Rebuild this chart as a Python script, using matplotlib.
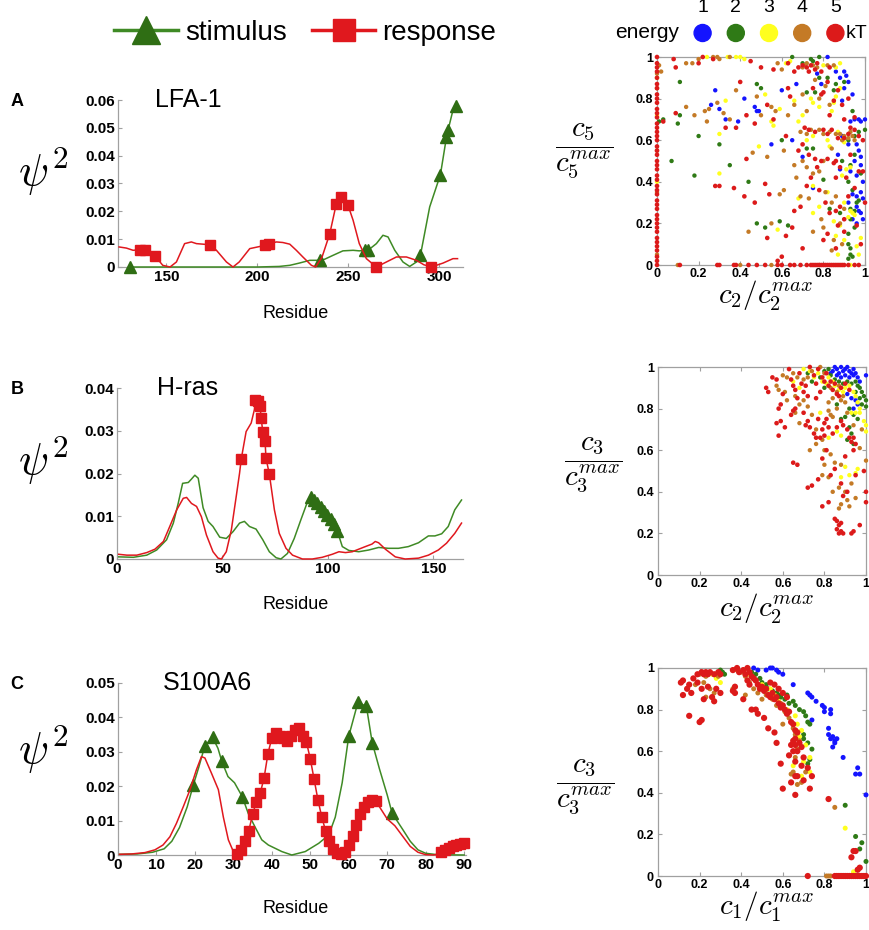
import numpy as np
import matplotlib
matplotlib.use('Agg')
import matplotlib.pyplot as plt
from matplotlib.lines import Line2D
from matplotlib.ticker import FuncFormatter

plt.rcParams['font.family'] = ['Liberation Sans', 'DejaVu Sans']
plt.rcParams['mathtext.fontset'] = 'cm'

GREEN = '#3f8a25'
GREEN_MK = '#2f6e14'
RED = '#e0181e'
AX_GRAY = '#a0a0a0'
energy_levels = [1, 2, 3, 4, 5]
energy_colors = ['#1414ff', '#2f7a16', '#ffff1e', '#c47a26', '#dc1a1a']

# ---------------- A: LFA-1 ----------------
resA_red = [124, 128, 131.7, 135.3, 138.5, 144, 148, 152, 155.5, 160, 163.7, 166.5, 173.8, 177.5,
            183, 186.6, 190, 195.8, 204.4, 206.4, 210.5, 214, 217.8, 221.4, 225, 229.7, 232, 235.5,
            239.8, 243.4, 246.2, 249.8, 252.6, 256, 259.9, 265.4, 270.9, 276.4, 281.9, 287.4,
            291.5, 295.6, 302, 307.5, 310]
valA_red = [0.0072, 0.0068, 0.006, 0.0062, 0.006, 0.0038, 0.0006, 0, 0.0018, 0.0084, 0.009, 0.0084,
            0.008, 0.006, 0.0018, 0, 0.0018, 0.0066, 0.0078, 0.0084, 0.009, 0.0088, 0.0082, 0.006,
            0.0036, 0.0006, 0, 0.0035, 0.012, 0.0228, 0.0252, 0.0222, 0.0168, 0.0084, 0.003, 0,
            0.0018, 0.0036, 0.0036, 0.0024, 0.0008, 0, 0.0014, 0.003, 0.003]
mkA_red = [135.3, 138.5, 144, 173.8, 204.4, 206.4, 239.8, 243.4, 246.2, 249.8, 265.4, 295.6]

resA_grn = [130, 150, 175, 200, 212, 217.8, 223, 228.8, 234.3, 237, 241.6, 247, 252.6, 256, 259,
            260.8, 265.4, 269, 271.8, 275.5, 280, 283.7, 287.4, 289.6, 294.7, 300.6, 303.9, 304.8,
            307.5, 309.4]
valA_grn = [0, 0, 0, 0, 0.0002, 0.0006, 0.0014, 0.0024, 0.0024, 0.0028, 0.0042, 0.0058, 0.006,
            0.0058, 0.006, 0.006, 0.0084, 0.0114, 0.0108, 0.006, 0.0018, 0.0002, 0.0018, 0.0042,
            0.0216, 0.0332, 0.0466, 0.0492, 0.0564, 0.0578]
mkA_grn = [130, 234.3, 259, 260.8, 289.6, 300.6, 303.9, 304.8, 309.4]

# ---------------- B: H-ras ----------------
resB_red = [0.8, 4.7, 9.4, 14.1, 18, 22, 25, 28.3, 31.4, 33, 35.3, 37.7, 40, 42.4, 45.5, 47.9,
            49.5, 51.8, 54.2, 56.5, 58.1, 58.9, 61.2, 63.6, 65.1, 65.6, 66.9, 67.8, 68.3, 69.1,
            70.2, 70.6, 72.2, 74.6, 76.9, 80.1, 83.2, 87.9, 92.6, 97.3, 102, 105.2, 108.3, 111.5,
            114.6, 117.7, 120.9, 122.4, 124, 127.2, 131.9, 136.6, 142.9, 147.6, 152.3, 156.2,
            160.1, 163.3]
valB_red = [0.0011, 0.0009, 0.0009, 0.0015, 0.0023, 0.0041, 0.0076, 0.0115, 0.0142, 0.0144, 0.013,
            0.0123, 0.0099, 0.0056, 0.0017, 0.0002, 0, 0.0017, 0.0068, 0.0146, 0.0201, 0.0234,
            0.0298, 0.0318, 0.0349, 0.0372, 0.037, 0.0358, 0.033, 0.0298, 0.0275, 0.0236, 0.0199,
            0.0115, 0.006, 0.0025, 0.0009, 0, 0, 0.0004, 0.0011, 0.0017, 0.0015, 0.0017, 0.0023,
            0.0029, 0.0035, 0.0041, 0.0038, 0.0023, 0.0005, 0, 0.0002, 0.0009, 0.0021, 0.0037,
            0.006, 0.0084]
mkB_red = [58.9, 65.6, 66.9, 67.8, 68.3, 69.1, 70.2, 70.6, 72.2]

resB_grn = [0.8, 7.8, 14.1, 18.8, 23.5, 26.7, 29, 31.1, 33.8, 35.3, 36.9, 38.5, 40.8, 43.2, 45.5,
            48.7, 51.8, 55, 58.1, 60.4, 62.8, 65.9, 69.1, 72.2, 75.4, 77.7, 80.8, 84, 87.1, 90.3,
            91.8, 93.4, 95.0, 96.5, 98.1, 99.7, 101.3, 102.8, 104.4, 106.8, 109.9, 114.6, 119.3,
            124, 128.7, 133.4, 138.1, 142.9, 147.6, 150.7, 153.9, 157, 160.1, 163.3]
valB_grn = [0.0005, 0.0004, 0.0009, 0.0021, 0.0045, 0.0084, 0.013, 0.0177, 0.0179, 0.0187, 0.0196,
            0.0189, 0.012, 0.0088, 0.0076, 0.0051, 0.0048, 0.0064, 0.0084, 0.0088, 0.0076, 0.007,
            0.0045, 0.0017, 0.0003, 0, 0.0013, 0.0048, 0.0091, 0.0134, 0.0146, 0.0138, 0.013,
            0.0121, 0.0113, 0.0103, 0.0093, 0.0082, 0.0066, 0.0029, 0.002, 0.0017, 0.0021, 0.0027,
            0.0025, 0.0025, 0.0029, 0.0038, 0.0054, 0.0054, 0.0059, 0.0076, 0.0115, 0.0138]
mkB_grn = [91.8, 93.4, 95.0, 96.5, 98.1, 99.7, 101.3, 102.8, 104.4]

# ---------------- C: S100A6 ----------------
resC_red = [0.4, 3.5, 7, 9.6, 11.7, 13.5, 15.2, 17, 18.7, 20.4, 21.7, 22.6, 24.3, 26.1, 27.4, 28.7,
            30, 31, 32, 33, 34, 35, 36, 37, 38, 39, 40, 41, 42, 43, 44, 45, 46, 47, 48, 49, 50, 51,
            52, 53, 54, 55, 56, 57, 58, 59, 60, 61, 62, 63, 64, 65, 66, 67, 68, 70, 72, 74, 76, 78,
            80, 82, 83, 84, 85, 86, 87, 88, 89, 90]
valC_red = [0.0002, 0.0003, 0.0007, 0.0015, 0.0029, 0.0053, 0.0092, 0.0141, 0.0189, 0.0248, 0.0286,
            0.0282, 0.0238, 0.019, 0.011, 0.0044, 0.001, 0.0003, 0.0015, 0.004, 0.007, 0.0118,
            0.0155, 0.018, 0.0225, 0.0295, 0.034, 0.0355, 0.0345, 0.034, 0.0332, 0.0345, 0.0362,
            0.037, 0.0345, 0.0328, 0.028, 0.022, 0.016, 0.011, 0.007, 0.0042, 0.0018, 0.0005,
            0.0002, 0.001, 0.0028, 0.0055, 0.0088, 0.0118, 0.014, 0.0155, 0.016, 0.0158, 0.014,
            0.0105, 0.0085, 0.0055, 0.0025, 0.0008, 0.0001, 0, 0.0002, 0.0008, 0.0015, 0.0021,
            0.0026, 0.003, 0.0033, 0.0035]
mkC_red = [31, 32, 33, 34, 35, 36, 37, 38, 39, 40, 41, 42, 43, 44, 45, 46, 47, 48, 49, 50, 51, 52,
           53, 54, 55, 56, 57, 58, 59, 60, 61, 62, 63, 64, 65, 66, 67, 84, 85, 86, 87, 88, 89, 90]

resC_grn = [0.4, 5, 9, 12, 14, 16, 18, 19.6, 21, 22.6, 24.6, 26, 27, 28.6, 30.3, 32.3, 33.9, 35.7,
            37.4, 39.1, 42.6, 45.2, 48.7, 52.2, 54.8, 56.5, 58.3, 60, 62.4, 64.6, 66.1, 68, 70,
            71.3, 74, 76, 78, 80, 83, 90]
valC_grn = [0.0002, 0.0003, 0.0008, 0.0018, 0.004, 0.008, 0.014, 0.0204, 0.0255, 0.0318, 0.0342,
            0.031, 0.0272, 0.0228, 0.021, 0.017, 0.012, 0.008, 0.0044, 0.0029, 0.001, 0, 0.001,
            0.0034, 0.0058, 0.011, 0.021, 0.0345, 0.0444, 0.0432, 0.0327, 0.025, 0.0175, 0.0121,
            0.0075, 0.004, 0.0015, 0.0005, 0.0001, 0]
mkC_grn = [19.6, 22.6, 24.6, 27, 32.3, 60, 62.4, 64.6, 66.1, 71.3]

# ---------------- scatter: c5 vs c2 ----------------
s1_blue = [(0.82, 1.0), (0.86, 0.93), (0.88, 0.9), (0.9, 0.93), (0.91, 0.91), (0.92, 0.88), (0.9, 0.85),
           (0.94, 0.82), (0.89, 0.79), (0.79, 0.87), (0.77, 0.92), (0.6, 0.84), (0.67, 0.87), (0.26, 0.77),
           (0.3, 0.75), (0.28, 0.84), (0.42, 0.8), (0.39, 0.69), (0.47, 0.76), (0.48, 0.74), (0.49, 0.74),
           (0.33, 0.7), (0.95, 0.7), (0.97, 0.7), (0.98, 0.69), (1.0, 0.7), (0.93, 0.69), (0.96, 0.58),
           (0.97, 0.55), (0.98, 0.52), (0.95, 0.5), (0.98, 0.48), (0.93, 0.45), (0.96, 0.43), (0.99, 0.4),
           (0.94, 0.34), (0.96, 0.33), (0.98, 0.35), (0.99, 0.32), (0.92, 0.3), (0.96, 0.28), (0.97, 0.26),
           (0.94, 0.22), (0.96, 0.2), (0.98, 0.25), (0.99, 0.22), (0.7, 0.52), (0.75, 0.37), (0.65, 0.6),
           (0.89, 0.62), (0.92, 0.58), (0.87, 0.53), (0.55, 0.58), (0.88, 0.46)]
s1_green = [(0.03, 0.7), (0.01, 0.69), (0.11, 0.88), (0.1, 0.68), (0.11, 0.72), (0.2, 0.62), (0.07, 0.5),
            (0.18, 0.43), (0.3, 0.58), (0.35, 0.48), (0.44, 0.4), (0.65, 1.0), (0.74, 0.99), (0.75, 0.98),
            (0.78, 1.0), (0.7, 0.97), (0.78, 0.9), (0.72, 0.83), (0.76, 0.83), (0.82, 0.9), (0.86, 0.87),
            (0.85, 0.84), (0.9, 0.88), (0.94, 0.74), (0.95, 0.62), (0.97, 0.64), (1.0, 0.65), (0.92, 0.6),
            (0.89, 0.5), (0.93, 0.48), (0.95, 0.53), (0.98, 0.44), (0.92, 0.4), (0.94, 0.36), (0.93, 0.27),
            (0.95, 0.26), (0.96, 0.3), (0.97, 0.31), (0.93, 0.22), (0.95, 0.18), (0.92, 0.15), (0.92, 0.1),
            (0.93, 0.08), (0.93, 0.05), (0.94, 0.04), (0.92, 0.03), (0.83, 0.27), (0.88, 0.25), (0.59, 0.21),
            (0.63, 0.19), (0.48, 0.2), (0.52, 0.18), (0.6, 0.6), (0.8, 0.41), (0.75, 0.56), (0.5, 0.85),
            (0.48, 0.87), (0.72, 0.56)]
s1_yellow = [(0.24, 1.0), (0.34, 1.0), (0.38, 1.0), (0.4, 1.0), (0.42, 0.99), (0.62, 0.97), (0.64, 0.98),
             (0.88, 0.97), (0.86, 0.95), (0.8, 0.96), (0.33, 0.79), (0.3, 0.63), (0.3, 0.44), (0.49, 0.57),
             (0.52, 0.82), (0.56, 0.67), (0.55, 0.69), (0.59, 0.75), (0.66, 0.79), (0.68, 0.69), (0.7, 0.72),
             (0.74, 0.8), (0.75, 0.78), (0.78, 0.76), (0.85, 0.78), (0.86, 0.81), (0.88, 0.85), (0.75, 0.62),
             (0.72, 0.6), (0.82, 0.6), (0.87, 0.64), (0.9, 0.59), (0.83, 0.57), (0.93, 0.47), (0.91, 0.46),
             (0.89, 0.43), (0.75, 0.38), (0.78, 0.28), (0.82, 0.35), (0.9, 0.3), (0.93, 0.26), (0.94, 0.25),
             (0.95, 0.24), (0.92, 0.23), (0.86, 0.14), (0.85, 0.21), (0.88, 0.19), (0.96, 0.09), (0.75, 0.25),
             (0.58, 0.17), (0.68, 0.32), (0.9, 0.12), (0.98, 0.13), (0.97, 0.05), (0.87, 0.05), (0.0, 0.72),
             (0.0, 0.4), (0.0, 0.9), (0.93, 0.0), (0.84, 0.74)]
s1_orange = [(0.14, 0.97), (0.17, 0.97), (0.2, 0.99), (0.27, 1.0), (0.29, 1.0), (0.3, 0.99), (0.35, 1.0),
             (0.58, 0.97), (0.6, 0.94), (0.71, 0.96), (0.72, 0.97), (0.75, 0.96), (0.77, 0.95), (0.7, 0.95),
             (0.82, 0.96), (0.85, 0.96), (0.02, 0.93), (0.0, 0.92), (0.01, 0.96), (0.38, 0.84), (0.18, 0.72),
             (0.14, 0.76), (0.23, 0.74), (0.25, 0.75), (0.24, 0.69), (0.35, 0.7), (0.29, 0.78), (0.32, 0.73),
             (0.48, 0.81), (0.5, 0.72), (0.55, 0.76), (0.57, 0.74), (0.63, 0.72), (0.66, 0.77), (0.72, 0.74),
             (0.7, 0.82), (0.78, 0.8), (0.81, 0.86), (0.76, 0.89), (0.83, 0.77), (0.69, 0.64), (0.72, 0.63),
             (0.74, 0.65), (0.78, 0.65), (0.8, 0.63), (0.83, 0.64), (0.86, 0.63), (0.88, 0.63), (0.9, 0.62),
             (0.92, 0.61), (0.94, 0.62), (0.93, 0.64), (0.95, 0.6), (0.89, 0.6), (0.46, 0.54), (0.53, 0.52),
             (0.61, 0.55), (0.66, 0.48), (0.7, 0.5), (0.72, 0.47), (0.8, 0.5), (0.78, 0.45), (0.75, 0.44),
             (0.81, 0.35), (0.84, 0.3), (0.86, 0.33), (0.9, 0.27), (0.79, 0.22), (0.75, 0.16), (0.85, 0.12),
             (0.89, 0.1), (0.84, 0.07), (0.67, 0.42), (0.61, 0.36), (0.59, 0.34), (0.44, 0.16), (0.55, 0.2),
             (0.69, 0.33), (0.73, 0.32), (0.0, 0.05), (0.0, 0.35), (0.0, 0.55), (0.0, 0.85), (0.55, 0.0),
             (0.4, 0.0), (0.1, 0.0), (0.78, 0.0), (0.8, 0.18), (0.88, 0.2), (0.84, 0.56)]
s1_red = [(0, 0.0), (0, 0.02), (0, 0.04), (0, 0.07), (0, 0.09), (0, 0.11), (0, 0.13), (0, 0.16), (0, 0.18),
          (0, 0.2), (0, 0.22), (0, 0.24), (0, 0.27), (0, 0.29), (0, 0.31), (0, 0.34), (0, 0.36), (0, 0.38),
          (0, 0.41), (0, 0.43), (0, 0.46), (0, 0.48), (0, 0.5), (0, 0.53), (0, 0.55), (0, 0.57), (0, 0.6),
          (0, 0.62), (0, 0.64), (0, 0.66), (0, 0.68), (0, 0.71), (0, 0.73), (0, 0.75), (0, 0.78), (0, 0.8),
          (0, 0.82), (0, 0.85), (0, 0.87), (0, 0.9), (0, 0.93), (0, 0.95), (0, 0.97), (0, 1.0),
          (0.11, 0), (0.29, 0), (0.3, 0), (0.37, 0), (0.38, 0), (0.44, 0), (0.48, 0), (0.52, 0), (0.58, 0),
          (0.6, 0), (0.64, 0), (0.66, 0), (0.69, 0), (0.72, 0), (0.74, 0), (0.75, 0), (0.76, 0), (0.77, 0),
          (0.78, 0), (0.79, 0), (0.8, 0), (0.81, 0), (0.82, 0), (0.83, 0), (0.84, 0), (0.85, 0), (0.86, 0),
          (0.87, 0), (0.88, 0), (0.89, 0), (0.9, 0), (0.92, 0), (0.95, 0), (0.97, 0),
          (0.08, 0.99), (0.09, 0.95), (0.2, 0.97), (0.22, 1.0), (0.27, 0.99), (0.45, 0.98), (0.5, 0.95),
          (0.56, 0.94), (0.63, 0.97), (0.66, 0.93), (0.68, 0.95), (0.7, 0.96), (0.72, 0.95), (0.74, 0.96),
          (0.76, 0.94), (0.73, 0.93), (0.77, 0.97), (0.79, 0.93), (0.83, 0.95), (0.79, 0.82), (0.75, 0.85),
          (0.8, 0.83), (0.82, 0.88), (0.85, 0.79), (0.87, 0.84), (0.89, 0.77), (0.92, 0.8), (0.09, 0.73),
          (0.03, 0.69), (0.4, 0.88), (0.33, 0.66), (0.38, 0.66), (0.43, 0.72), (0.47, 0.68), (0.53, 0.77),
          (0.56, 0.7), (0.62, 0.62), (0.63, 0.85), (0.64, 0.81), (0.71, 0.66), (0.73, 0.65), (0.76, 0.64),
          (0.8, 0.65), (0.82, 0.63), (0.84, 0.65), (0.87, 0.61), (0.9, 0.61), (0.92, 0.63), (0.95, 0.65),
          (0.97, 0.62), (0.99, 0.6), (0.93, 0.66), (0.95, 0.71), (0.68, 0.55), (0.7, 0.58), (0.73, 0.53),
          (0.76, 0.51), (0.79, 0.5), (0.82, 0.51), (0.85, 0.49), (0.88, 0.47), (0.91, 0.42), (0.86, 0.42),
          (0.77, 0.47), (0.74, 0.42), (0.72, 0.38), (0.69, 0.28), (0.66, 0.26), (0.78, 0.36), (0.81, 0.3),
          (0.83, 0.25), (0.86, 0.26), (0.88, 0.28), (0.92, 0.33), (0.9, 0.22), (0.87, 0.19), (0.82, 0.15),
          (0.8, 0.12), (0.86, 0.08), (0.9, 0.16), (0.96, 0.19), (0.98, 0.1), (0.28, 0.38), (0.3, 0.38),
          (0.43, 0.51), (0.52, 0.39), (0.37, 0.37), (0.42, 0.33), (0.53, 0.13), (0.47, 0.3), (0.54, 0.34),
          (0.62, 0.14), (0.6, 0.04), (0.58, 0.02), (0.7, 0.08), (0.65, 0.18), (0.95, 0.37), (0.99, 0.45),
          (1.0, 0.3), (0.97, 0.45), (0.93, 0.53), (0.86, 0.5), (0.9, 0.7), (0.83, 0.72)]

# ---------------- scatter: c3 vs c2 ----------------
s2_blue = [(0.84, 0.98), (0.85, 1.0), (0.86, 0.99), (0.87, 0.97), (0.88, 1.0), (0.89, 0.98), (0.9, 0.99),
           (0.91, 1.0), (0.92, 0.98), (0.93, 0.97), (0.94, 0.99), (0.95, 0.97), (0.86, 0.96), (0.88, 0.95),
           (0.9, 0.96), (0.92, 0.95), (0.94, 0.96), (0.96, 0.95), (1.0, 0.96), (0.97, 0.93), (0.93, 0.85),
           (0.95, 0.84), (0.94, 0.8), (0.96, 0.82), (0.91, 0.87), (0.83, 0.97)]
s2_green = [(0.8, 0.98), (0.82, 0.99), (0.83, 0.96), (0.85, 0.94), (0.87, 0.93), (0.89, 0.92), (0.91, 0.93),
            (0.93, 0.92), (0.95, 0.93), (0.96, 0.91), (0.97, 0.9), (0.98, 0.88), (0.99, 0.86), (1.0, 0.84),
            (0.98, 0.82), (1.0, 0.81), (0.97, 0.85), (0.95, 0.88), (0.78, 0.95), (0.8, 0.9), (0.92, 0.8),
            (0.9, 0.76), (0.94, 0.77), (0.92, 0.71), (0.93, 0.68), (0.94, 0.63), (0.91, 0.65), (0.86, 0.82),
            (0.74, 0.93), (0.72, 0.97), (0.96, 0.75), (0.88, 0.75)]
s2_yellow = [(0.7, 0.99), (0.73, 0.98), (0.75, 0.95), (0.77, 0.97), (0.79, 0.93), (0.81, 0.92), (0.82, 0.95),
             (0.84, 0.93), (0.85, 0.91), (0.87, 0.89), (0.89, 0.88), (0.9, 0.9), (0.92, 0.91), (0.94, 0.88),
             (0.95, 0.86), (0.96, 0.83), (0.97, 0.8), (0.93, 0.78), (0.95, 0.78), (0.99, 0.74), (1.0, 0.72),
             (1.0, 0.69), (0.97, 0.78), (0.82, 0.66), (0.86, 0.69), (0.88, 0.67), (0.9, 0.52), (0.92, 0.48),
             (0.95, 0.49), (0.96, 0.51), (0.88, 0.47), (0.78, 0.78), (0.68, 0.9), (0.65, 0.93)]
s2_orange = [(0.6, 0.96), (0.62, 0.95), (0.65, 0.97), (0.67, 0.95), (0.7, 0.94), (0.72, 0.95), (0.74, 0.98),
             (0.78, 1.0), (0.8, 0.97), (0.83, 0.9), (0.86, 0.88), (0.87, 0.91), (0.89, 0.86), (0.9, 0.83),
             (0.84, 0.85), (0.82, 0.83), (0.82, 0.79), (0.83, 0.77), (0.84, 0.76), (0.86, 0.8), (0.88, 0.84),
             (0.57, 0.91), (0.58, 0.89), (0.61, 0.88), (0.62, 0.84), (0.66, 0.86), (0.68, 0.82), (0.7, 0.84),
             (0.72, 0.81), (0.74, 0.77), (0.76, 0.7), (0.79, 0.65), (0.8, 0.6), (0.83, 0.58), (0.85, 0.54),
             (0.88, 0.53), (0.82, 0.47), (0.79, 0.48), (0.73, 0.6), (0.68, 0.73), (0.66, 0.78), (0.87, 0.42),
             (0.9, 0.4), (0.91, 0.36), (0.88, 0.34), (0.87, 0.32), (0.92, 0.33), (0.95, 0.37), (0.93, 0.44),
             (1.0, 0.55), (0.97, 0.61), (0.98, 0.7), (0.94, 0.72), (0.91, 0.78), (0.8, 0.53), (0.76, 0.63),
             (0.84, 0.4)]
s2_red = [(0.52, 0.9), (0.53, 0.88), (0.55, 0.95), (0.57, 0.94), (0.58, 0.8), (0.59, 0.82), (0.6, 0.87),
          (0.57, 0.73), (0.59, 0.74), (0.58, 0.67), (0.61, 0.71), (0.63, 0.99), (0.64, 0.94), (0.65, 0.91),
          (0.66, 0.89), (0.68, 0.97), (0.69, 0.92), (0.7, 0.88), (0.71, 0.91), (0.73, 1.0), (0.75, 0.96),
          (0.76, 0.92), (0.77, 0.99), (0.79, 0.95), (0.8, 0.93), (0.81, 0.97), (0.82, 0.91), (0.83, 0.93),
          (0.84, 0.89), (0.85, 0.92), (0.86, 0.87), (0.87, 0.86), (0.88, 0.9), (0.9, 0.92), (0.92, 0.89),
          (0.78, 0.88), (0.76, 0.85), (0.72, 0.86), (0.67, 0.85), (0.65, 0.79), (0.64, 0.77), (0.66, 0.8),
          (0.7, 0.78), (0.72, 0.74), (0.73, 0.71), (0.75, 0.68), (0.76, 0.66), (0.78, 0.66), (0.79, 0.7),
          (0.8, 0.73), (0.81, 0.75), (0.82, 0.71), (0.84, 0.68), (0.8, 0.67), (0.77, 0.75), (0.86, 0.71),
          (0.88, 0.74), (0.89, 0.72), (0.91, 0.7), (0.92, 0.66), (0.93, 0.64), (0.94, 0.66), (0.95, 0.63),
          (0.94, 0.6), (0.9, 0.57), (0.85, 0.51), (0.83, 0.48), (0.77, 0.46), (0.74, 0.43), (0.67, 0.53),
          (0.65, 0.54), (0.72, 0.42), (0.79, 0.33), (0.82, 0.35), (0.85, 0.27), (0.86, 0.26), (0.87, 0.24),
          (0.86, 0.22), (0.88, 0.21), (0.87, 0.2), (0.89, 0.2), (0.88, 0.25), (0.93, 0.2), (0.94, 0.21),
          (0.97, 0.24), (0.89, 0.38), (0.91, 0.4), (0.88, 0.44), (0.95, 0.48), (1.0, 0.4), (1.0, 0.35),
          (0.99, 0.5), (0.79, 0.56), (0.81, 0.6), (0.71, 0.72)]

# ---------------- scatter: c3 vs c1 ----------------
s3_blue = [(0.46, 1.0), (0.48, 0.99), (0.52, 0.99), (0.54, 1.0), (0.55, 1.0), (0.57, 0.99), (0.58, 0.98),
           (0.6, 0.97), (0.65, 0.92), (0.72, 0.88), (0.73, 0.87), (0.74, 0.86), (0.76, 0.84), (0.79, 0.82),
           (0.8, 0.81), (0.8, 0.79), (0.83, 0.8), (0.83, 0.78), (0.74, 0.75), (0.82, 0.71), (0.82, 0.68),
           (0.83, 0.66), (0.84, 0.67), (0.85, 0.65), (0.86, 0.66), (0.84, 0.62), (0.85, 0.64), (0.89, 0.57),
           (0.96, 0.52), (0.95, 0.49), (0.97, 0.49), (1.0, 0.39)]
s3_green = [(0.31, 0.98), (0.32, 0.97), (0.3, 0.99), (0.45, 0.98), (0.47, 0.97), (0.49, 0.95), (0.5, 0.93),
            (0.52, 0.92), (0.53, 0.9), (0.55, 0.89), (0.57, 0.88), (0.59, 0.86), (0.61, 0.85), (0.63, 0.83),
            (0.65, 0.84), (0.66, 0.82), (0.68, 0.8), (0.7, 0.79), (0.71, 0.77), (0.73, 0.73), (0.72, 0.74),
            (0.7, 0.68), (0.7, 0.66), (0.72, 0.64), (0.74, 0.61), (0.73, 0.56), (0.72, 0.54), (0.9, 0.34),
            (0.95, 0.19), (0.98, 0.16), (0.97, 0.13), (1.0, 0.07), (0.62, 0.87), (0.58, 0.87)]
s3_yellow = [(0.28, 0.95), (0.3, 0.93), (0.26, 0.97), (0.43, 0.97), (0.5, 0.92), (0.54, 0.9), (0.56, 0.87),
             (0.58, 0.84), (0.6, 0.82), (0.62, 0.8), (0.66, 0.77), (0.67, 0.73), (0.69, 0.7), (0.68, 0.67),
             (0.71, 0.63), (0.73, 0.57), (0.7, 0.55), (0.65, 0.53), (0.69, 0.48), (0.73, 0.5), (0.9, 0.23),
             (0.94, 0.02), (0.52, 0.88)]
s3_orange = [(0.2, 0.97), (0.22, 0.93), (0.23, 0.96), (0.25, 0.9), (0.23, 0.86), (0.27, 0.88), (0.18, 0.92),
             (0.29, 0.96), (0.38, 0.99), (0.4, 0.98), (0.42, 0.96), (0.44, 0.93), (0.46, 0.9), (0.48, 0.88),
             (0.5, 0.85), (0.52, 0.87), (0.55, 0.85), (0.57, 0.82), (0.59, 0.83), (0.61, 0.79), (0.63, 0.76),
             (0.65, 0.71), (0.66, 0.68), (0.68, 0.65), (0.67, 0.61), (0.66, 0.57), (0.64, 0.49), (0.65, 0.5),
             (0.67, 0.44), (0.69, 0.45), (0.71, 0.5), (0.85, 0.33), (0.81, 0.0), (0.82, 0.0), (0.83, 0.0),
             (0.36, 0.9), (0.42, 0.87), (0.6, 0.73)]
s3_red = [(0.11, 0.93), (0.12, 0.94), (0.12, 0.87), (0.14, 0.9), (0.15, 0.92), (0.16, 0.88), (0.15, 0.77),
          (0.2, 0.74), (0.21, 0.75), (0.17, 0.95), (0.19, 0.97), (0.21, 0.98), (0.22, 0.97), (0.23, 0.98),
          (0.24, 0.97), (0.25, 0.98), (0.27, 0.97), (0.29, 0.98), (0.3, 0.97), (0.19, 0.93), (0.21, 0.9),
          (0.24, 0.91), (0.26, 0.86), (0.27, 0.84), (0.22, 0.85), (0.3, 0.88), (0.28, 0.9), (0.36, 0.99),
          (0.38, 1.0), (0.39, 0.98), (0.41, 0.99), (0.42, 0.97), (0.43, 1.0), (0.44, 0.98), (0.45, 0.96),
          (0.46, 0.95), (0.47, 0.94), (0.44, 0.92), (0.43, 0.94), (0.48, 0.92), (0.49, 0.9), (0.5, 0.91),
          (0.51, 0.89), (0.52, 0.9), (0.53, 0.87), (0.54, 0.86), (0.55, 0.88), (0.56, 0.85), (0.57, 0.86),
          (0.58, 0.83), (0.59, 0.81), (0.6, 0.82), (0.61, 0.8), (0.62, 0.78), (0.63, 0.79), (0.64, 0.74),
          (0.65, 0.73), (0.66, 0.7), (0.67, 0.69), (0.66, 0.66), (0.65, 0.65), (0.64, 0.63), (0.66, 0.63),
          (0.68, 0.64), (0.69, 0.62), (0.67, 0.6), (0.65, 0.6), (0.63, 0.58), (0.66, 0.55), (0.7, 0.57),
          (0.69, 0.53), (0.72, 0.52), (0.74, 0.48), (0.66, 0.48), (0.67, 0.48), (0.7, 0.46), (0.64, 0.45),
          (0.6, 0.42), (0.66, 0.39), (0.73, 0.42), (0.59, 0.54), (0.57, 0.64), (0.53, 0.71), (0.56, 0.69),
          (0.48, 0.78), (0.51, 0.76), (0.41, 0.85), (0.36, 0.89), (0.37, 0.88), (0.45, 0.8), (0.47, 0.8),
          (0.37, 0.91), (0.82, 0.37), (0.93, 0.09), (0.94, 0.12), (0.95, 0.12), (0.96, 0.03), (0.97, 0.04),
          (0.72, 0.0), (0.85, 0.0), (0.86, 0.0), (0.87, 0.0), (0.88, 0.0), (0.89, 0.0), (0.9, 0.0),
          (0.91, 0.0), (0.92, 0.0), (0.93, 0.0), (0.94, 0.0), (0.95, 0.0), (0.96, 0.0), (0.97, 0.0),
          (0.98, 0.0), (0.99, 0.0), (1.0, 0.0), (0.54, 0.93), (0.56, 0.92), (0.58, 0.9), (0.6, 0.88),
          (0.62, 0.86)]

W, H = 870.0, 930.0


def px_rect(left, top, right, bottom):
    return [left / W, 1 - bottom / H, (right - left) / W, (bottom - top) / H]


fmt = FuncFormatter(lambda v, p: '%g' % round(v, 4))

fig = plt.figure(figsize=(8.7, 9.3), dpi=100)


def line_panel(rect, res_g, val_g, mk_g, res_r, val_r, mk_r, xlim, xticks, ymax, name, letter,
               name_x, lab_x, lab_y, psi_y):
    ax = fig.add_axes(rect)
    res_g = np.array(res_g)
    res_r = np.array(res_r)
    ax.plot(res_g, val_g, color=GREEN, lw=1.1, marker='^', ms=9, mfc=GREEN_MK, mec=GREEN_MK,
            markevery=list(np.isin(res_g, mk_g)), clip_on=False, zorder=3)
    ax.plot(res_r, val_r, color=RED, lw=1.1, marker='s', ms=7, mfc=RED, mec=RED,
            markevery=list(np.isin(res_r, mk_r)), clip_on=False, zorder=4)
    ax.set_xlim(*xlim)
    ax.set_ylim(0, ymax)
    ax.set_xticks(xticks)
    ax.set_yticks(np.linspace(0, ymax, int(round(ymax / 0.01)) + 1))
    ax.xaxis.set_major_formatter(fmt)
    ax.yaxis.set_major_formatter(fmt)
    for s in ['top', 'right']:
        ax.spines[s].set_visible(False)
    for s in ['left', 'bottom']:
        ax.spines[s].set_color(AX_GRAY)
        ax.spines[s].set_linewidth(0.9)
    ax.tick_params(direction='in', length=3, color=AX_GRAY, labelsize=11, pad=2)
    for lbl in ax.get_xticklabels() + ax.get_yticklabels():
        lbl.set_fontweight('bold')
    ax.set_xlabel('Residue', fontsize=13)
    ax.xaxis.set_label_coords(lab_x, lab_y)
    ax.text(name_x, 1.0, name, transform=ax.transAxes, fontsize=18, va='center', ha='left')
    fig.text(0.012, rect[1] + rect[3] - 0.002, letter, fontsize=13, fontweight='bold',
             va='center', ha='left')
    fig.text(0.05, psi_y, r'$\psi^2$', fontsize=32, ha='center', va='center')
    return ax


line_panel(px_rect(118, 100, 463, 267), resA_grn, valA_grn, mkA_grn, resA_red, valA_red, mkA_red,
           (123.4, 313), [150, 200, 250, 300], 0.06, 'LFA-1', 'A', 0.107, 0.516, -0.23, 0.815)
line_panel(px_rect(117, 388, 463, 559), resB_grn, valB_grn, mkB_grn, resB_red, valB_red, mkB_red,
           (0, 164), [0, 50, 100, 150], 0.04, 'H-ras', 'B', 0.116, 0.517, -0.216, 0.505)
line_panel(px_rect(118, 683, 466, 855), resC_grn, valC_grn, mkC_grn, resC_red, valC_red, mkC_red,
           (0, 90.5), [0, 10, 20, 30, 40, 50, 60, 70, 80, 90], 0.05, 'S100A6', 'C', 0.13, 0.511,
           -0.262, 0.194)


def scatter_panel(rect, groups, xlab, ylab, ylab_xy, xlab_y, size):
    ax = fig.add_axes(rect)
    for pts, c, s in zip(groups, energy_colors, size):
        arr = np.array(pts, dtype=float)
        ax.scatter(arr[:, 0], arr[:, 1], s=s, color=c, edgecolors='none', clip_on=False, zorder=3)
    ax.set_xlim(0, 1)
    ax.set_ylim(0, 1)
    ticks = [0, 0.2, 0.4, 0.6, 0.8, 1]
    ax.set_xticks(ticks)
    ax.set_yticks(ticks)
    ax.xaxis.set_major_formatter(fmt)
    ax.yaxis.set_major_formatter(fmt)
    for s in ax.spines.values():
        s.set_color(AX_GRAY)
        s.set_linewidth(0.9)
    ax.tick_params(direction='in', length=3, color=AX_GRAY, labelsize=9, top=True, right=True)
    ax.tick_params(axis='x', pad=2)
    ax.tick_params(axis='y', pad=3)
    for lbl in ax.get_xticklabels() + ax.get_yticklabels():
        lbl.set_fontweight('bold')
    ax.text(0.52, xlab_y, xlab, transform=ax.transAxes, fontsize=21, ha='center', va='center')
    ax.text(ylab_xy[0], ylab_xy[1], ylab, transform=ax.transAxes, fontsize=21, ha='center',
            va='center')
    return ax


sizes_a = [10, 10, 10, 10, 11]
sizes_c = [13, 13, 13, 13, 20]
scatter_panel(px_rect(657, 57, 865, 265), [s1_blue, s1_green, s1_yellow, s1_orange, s1_red],
              r'$c_2/c_2^{max}$', r'$\dfrac{c_5}{c_5^{max}}$', (-0.35, 0.55), -0.15, sizes_a)
scatter_panel(px_rect(658, 367, 866, 575), [s2_blue, s2_green, s2_yellow, s2_orange, s2_red],
              r'$c_2/c_2^{max}$', r'$\dfrac{c_3}{c_3^{max}}$', (-0.31, 0.53), -0.16, sizes_a)
scatter_panel(px_rect(658, 668, 866, 876), [s3_blue, s3_green, s3_yellow, s3_orange, s3_red],
              r'$c_1/c_1^{max}$', r'$\dfrac{c_3}{c_3^{max}}$', (-0.35, 0.43), -0.15, sizes_c)

# stimulus / response legend
handles = [Line2D([], [], color=GREEN, lw=2.5, marker='^', ms=20, mfc=GREEN_MK, mec=GREEN_MK),
           Line2D([], [], color=RED, lw=2.5, marker='s', ms=16, mfc=RED, mec=RED)]
fig.legend(handles, ['stimulus', 'response'], loc='center left', bbox_to_anchor=(114 / W, 1 - 33 / H),
           ncol=2, frameon=False, fontsize=20, handlelength=2.3, handletextpad=0.25,
           columnspacing=0.9, borderpad=0, borderaxespad=0)

# energy colour key
ax_key = fig.add_axes(px_rect(686, 0, 852, 55))
ax_key.set_xlim(0.5, 5.5)
ax_key.set_ylim(0, 1)
ax_key.axis('off')
ax_key.scatter(energy_levels, [0.4] * len(energy_levels), s=150, c=energy_colors, clip_on=False)
for lev in energy_levels:
    ax_key.text(lev, 0.86, str(lev), fontsize=14, ha='center', va='center')
ax_key.text(0.3, 0.4, 'energy', fontsize=15, ha='right', va='center')
ax_key.text(5.32, 0.4, 'kT', fontsize=14, ha='left', va='center')

fig.savefig('out.png', dpi=100)
